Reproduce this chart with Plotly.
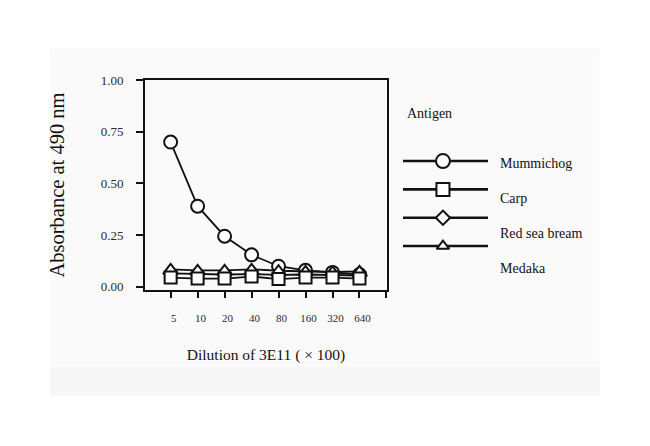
import plotly.graph_objects as go

# ---- data ----
dilutions = ["5", "10", "20", "40", "80", "160", "320", "640"]
mummichog = [0.70, 0.39, 0.245, 0.155, 0.10, 0.08, 0.07, 0.06]
carp = [0.045, 0.040, 0.040, 0.050, 0.038, 0.045, 0.045, 0.040]
red_sea_bream = [0.065, 0.062, 0.060, 0.062, 0.058, 0.060, 0.058, 0.055]
medaka = [0.085, 0.080, 0.080, 0.085, 0.078, 0.075, 0.072, 0.075]
y_ticks = [0.0, 0.25, 0.5, 0.75, 1.0]
y_ticktext = ["0.00", "0.25", "0.50", "0.75", "1.00"]
legend_title = "Antigen"

series = [
    ("Mummichog", mummichog, "circle", 13),
    ("Carp", carp, "square", 12),
    ("Red sea bream", red_sea_bream, "diamond", 11),
    ("Medaka", medaka, "triangle-up", 11),
]
draw_order = ["Mummichog", "Red sea bream", "Medaka", "Carp"]
legend_marker_sizes = {"Mummichog": 14, "Carp": 13, "Red sea bream": 11, "Medaka": 11}

FONT = "Liberation Serif"
INK = "#111111"
TICK_INK = "#2a2a2a"

xs = list(range(len(dilutions)))
fig = go.Figure()

lookup = {s[0]: s for s in series}
for name in draw_order:
    _, vals, sym, size = lookup[name]
    fig.add_trace(go.Scatter(
        x=xs, y=vals, mode="lines+markers", name=name,
        line=dict(color=INK, width=1.8),
        marker=dict(symbol=sym, size=size, color="white",
                    line=dict(color=INK, width=2)),
        showlegend=False, cliponaxis=False,
        xaxis="x", yaxis="y",
    ))

# ---- custom legend drawn on an auxiliary axis pair ----
for i, (name, vals, sym, size) in enumerate(series):
    fig.add_trace(go.Scatter(
        x=[0, 1], y=[i, i], mode="lines",
        line=dict(color=INK, width=2.6),
        showlegend=False, hoverinfo="skip", xaxis="x2", yaxis="y2",
    ))
    fig.add_trace(go.Scatter(
        x=[0.47], y=[i], mode="markers",
        marker=dict(symbol=sym, size=legend_marker_sizes[name], color="white",
                    line=dict(color=INK, width=2)),
        showlegend=False, hoverinfo="skip", xaxis="x2", yaxis="y2",
        cliponaxis=False,
    ))
    fig.add_annotation(
        x=1.118, y=i * 1.227 + 0.1, xref="x2", yref="y2",
        text=name, showarrow=False, xanchor="left", yanchor="middle",
        font=dict(family=FONT, size=14, color=INK),
    )

fig.add_annotation(
    x=0.02, y=-1.69, xref="x2", yref="y2", text=legend_title,
    showarrow=False, xanchor="left", yanchor="middle",
    font=dict(family=FONT, size=14, color=INK),
)

# faint background panel
fig.add_shape(type="rect", xref="paper", yref="paper",
              x0=-0.204, x1=0.978, y0=-0.505, y1=1.15,
              fillcolor="#fafafa", line=dict(width=0), layer="below")
fig.add_shape(type="rect", xref="paper", yref="paper",
              x0=-0.204, x1=0.978, y0=-0.505, y1=-0.367,
              fillcolor="#f7f7f7", line=dict(width=0), layer="below")

fig.update_layout(
    width=650, height=446,
    margin=dict(l=137, r=48, t=72, b=164),
    paper_bgcolor="white", plot_bgcolor="rgba(0,0,0,0)",
    font=dict(family=FONT, color=INK),
    xaxis=dict(
        domain=[0, 242 / 465], range=[-0.95, 8.02],
        tickmode="array", tickvals=xs + [8], ticktext=dilutions + [""],
        ticks="outside", ticklen=6, tickwidth=1.5, tickcolor=INK,
        showline=True, linecolor=INK, linewidth=2, mirror=True,
        showgrid=False, zeroline=False,
        ticklabelstandoff=11, ticklabelshift=3,
        tickfont=dict(family=FONT, size=11, color=TICK_INK),
        title=dict(text="Dilution of 3E11 ( × 100)", standoff=26,
                   font=dict(family=FONT, size=15.5, color=INK)),
    ),
    yaxis=dict(
        range=[-0.015, 1.0],
        tickmode="array", tickvals=y_ticks, ticktext=y_ticktext,
        ticks="outside", ticklen=7, tickwidth=1.5, tickcolor=INK,
        showline=True, linecolor=INK, linewidth=2, mirror=True,
        showgrid=False, zeroline=False,
        ticklabelstandoff=10,
        tickfont=dict(family=FONT, size=13, color=TICK_INK),
        title=dict(text="Absorbance at 490 nm", standoff=30,
                   font=dict(family=FONT, size=20.5, color=INK)),
    ),
    xaxis2=dict(domain=[258 / 465, 445 / 465], range=[0, 2.2],
                visible=False, anchor="y2"),
    yaxis2=dict(domain=[0, 1], range=[4.55, -2.86], visible=False,
                anchor="x2"),
)

fig.write_html("out.html")
